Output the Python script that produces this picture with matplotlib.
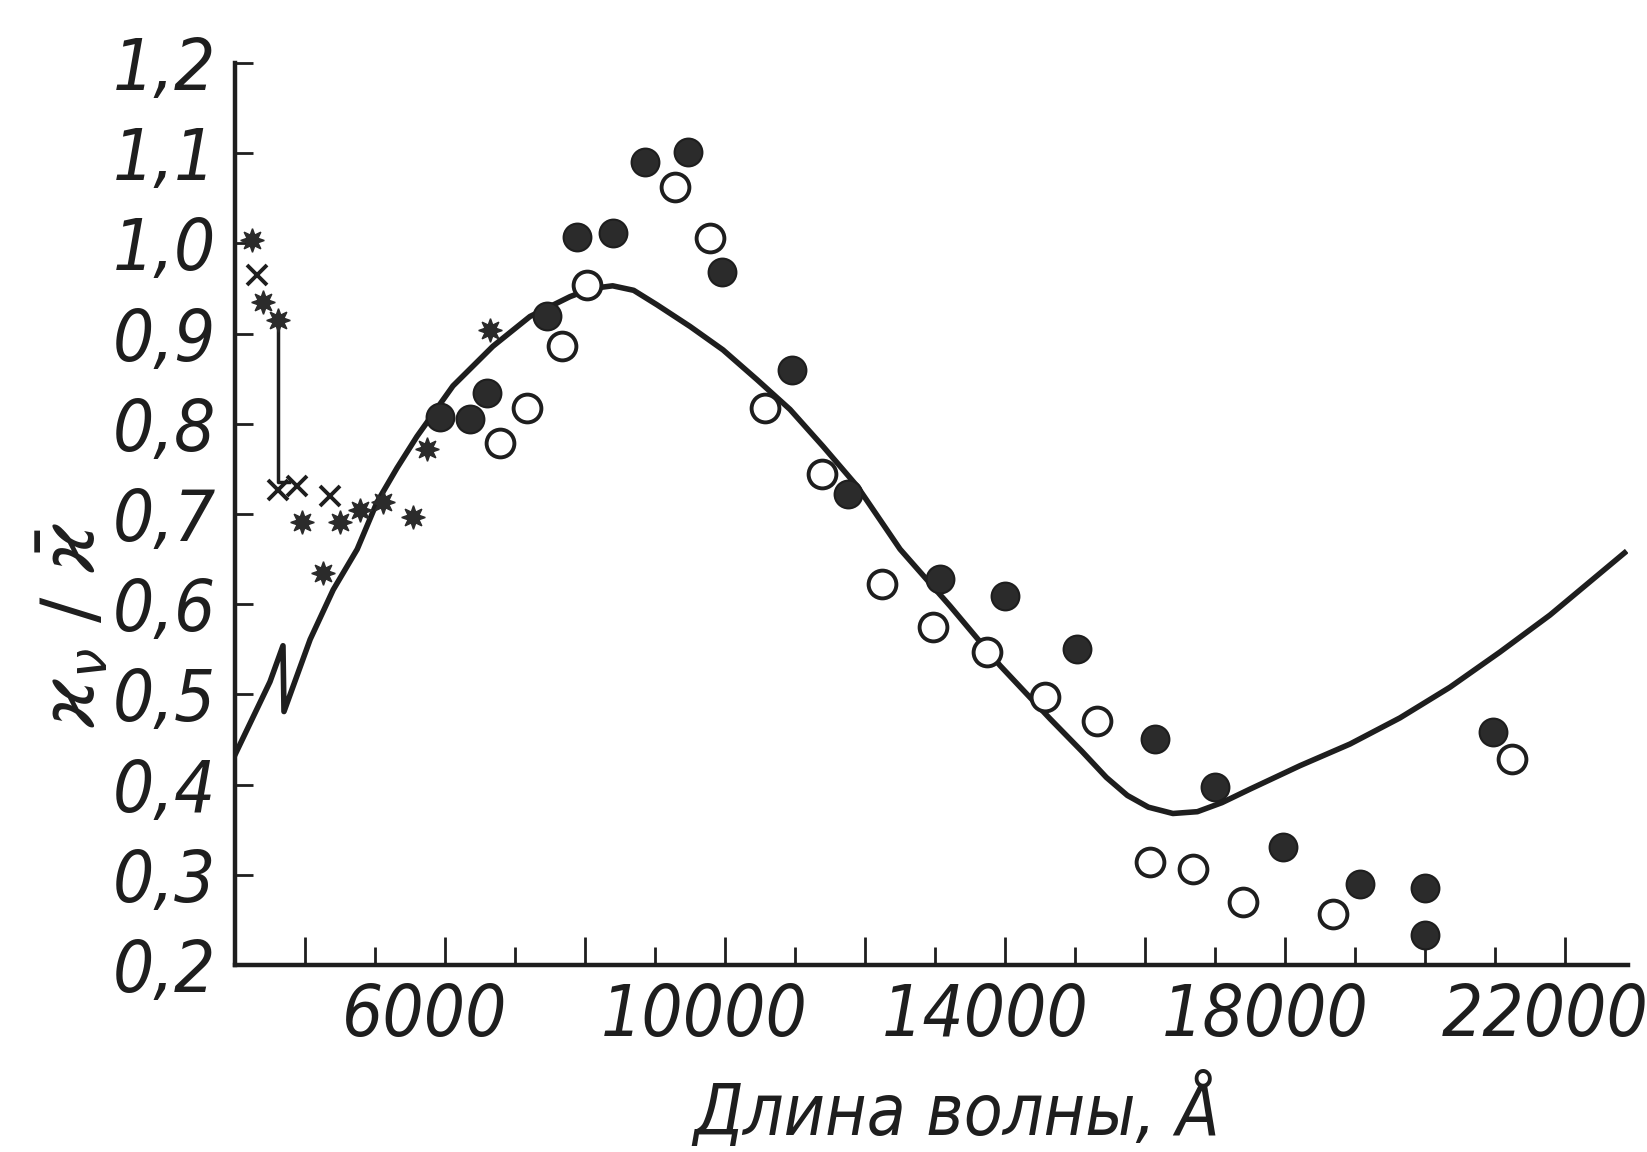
import matplotlib.pyplot as plt
from matplotlib import font_manager
from matplotlib.font_manager import FontProperties
from matplotlib.transforms import ScaledTranslation

# smooth curve (wavelength in A, ratio), incl. the little zigzag near the axis
curve_x = [3000, 3506, 3692, 3706, 4080, 4409, 4752, 5034, 5320, 5605, 6119, 6690, 7219, 7791,
           8100, 8400, 8700, 9032, 9504, 9975, 10461, 10932, 11404, 11890, 12504, 13218, 13932,
           14646, 15100, 15450, 15750, 16050, 16400, 16750, 17100, 17501, 18215, 18929, 19643,
           20357, 21071, 21785, 22742, 22850]
curve_y = [0.432, 0.514, 0.554, 0.481, 0.561, 0.616, 0.661, 0.713, 0.751, 0.786, 0.842, 0.886, 0.919, 0.941,
           0.950, 0.953, 0.948, 0.932, 0.908, 0.882, 0.849, 0.816, 0.775, 0.731, 0.661, 0.598, 0.532,
           0.473, 0.437, 0.408, 0.388, 0.375, 0.368, 0.370, 0.380, 0.395, 0.421, 0.445, 0.474,
           0.508, 0.547, 0.588, 0.650, 0.657]

open_x = [6790, 7176, 7675, 8033, 9289, 9789, 10574, 11388, 12246, 12974, 13744, 14572,
          15314, 16072, 16686, 17401, 18690, 21245]
open_y = [0.779, 0.818, 0.886, 0.954, 1.063, 1.006, 0.818, 0.744, 0.622, 0.575, 0.547, 0.497,
          0.471, 0.314, 0.307, 0.270, 0.257, 0.428]

filled_x = [5934, 6362, 6605, 7461, 7890, 8404, 8861, 9475, 9961, 10960, 11760, 13074, 14001,
            15029, 16143, 17000, 17972, 19072, 20000, 20000, 20974]
filled_y = [0.808, 0.805, 0.834, 0.919, 1.007, 1.012, 1.090, 1.101, 0.968, 0.860, 0.722, 0.628, 0.609,
            0.550, 0.451, 0.397, 0.331, 0.290, 0.285, 0.233, 0.458]

cross_x = [3320, 3620, 3891, 4366]
cross_y = [0.965, 0.727, 0.731, 0.720]

star_x = [3248, 3406, 3620, 3962, 4263, 4505, 4791, 5119, 5548, 5748, 6647]
star_y = [1.004, 0.935, 0.915, 0.691, 0.635, 0.691, 0.705, 0.713, 0.697, 0.772, 0.904]

bracket_x = [3620, 3620, 3780]
bracket_y = [0.915, 0.735, 0.735]

xtick_pos = [4000, 6000, 8000, 10000, 12000, 14000, 16000, 18000, 20000, 22000]
xtick_labels = ["", "6000", "", "10000", "", "14000", "", "18000", "", "22000"]
ytick_pos = [0.2, 0.3, 0.4, 0.5, 0.6, 0.7, 0.8, 0.9, 1.0, 1.1, 1.2]
ytick_labels = ["0,2", "0,3", "0,4", "0,5", "0,6", "0,7", "0,8", "0,9", "1,0", "1,1", "1,2"]

# look for a narrow italic face (the scan uses tall condensed digits)
narrow = None
for f in font_manager.fontManager.ttflist:
    n = f.fname.lower()
    if ("narrow" in n or "condensed" in n) and ("italic" in n or "oblique" in n) and "bold" not in n:
        narrow = f.fname
        break

if narrow:
    tick_fp = FontProperties(fname=narrow, size=52)
    lab_fp = FontProperties(fname=narrow, size=51)
else:
    tick_fp = FontProperties(family="DejaVu Sans", style="italic", size=40)
    lab_fp = FontProperties(family="DejaVu Sans", style="italic", size=44)
ytick_fp = tick_fp.copy()
if not narrow:
    ytick_fp.set_size(46)

plt.rcParams["mathtext.fontset"] = "dejavusans"

ink = "#1e1e1e"
fig = plt.figure(figsize=(16.47, 11.52), dpi=100)
ax = fig.add_axes([0.1424, 0.1623, 0.8461, 0.7830])

ax.plot(curve_x, curve_y, color=ink, lw=4, solid_joinstyle="round", zorder=2)
ax.plot(bracket_x, bracket_y, color=ink, lw=2.5, zorder=2)
ax.plot(filled_x, filled_y, "o", ms=20, color="#2b2b2b", mec=ink, mew=1.5, zorder=3)
ax.plot(open_x, open_y, "o", ms=20, mfc="white", mec=ink, mew=2.8, zorder=4)
ax.plot(star_x, star_y, marker=(8, 1, 0), ls="none", ms=17, color="#2b2b2b", zorder=4)
ax.plot(cross_x, cross_y, "x", ms=14, mew=2.8, color=ink, zorder=4)

ax.set_xlim(3000, 22900)
ax.set_ylim(0.2, 1.2)
for s in ["top", "right"]:
    ax.spines[s].set_visible(False)
for s in ["left", "bottom"]:
    ax.spines[s].set_linewidth(3.2)
    ax.spines[s].set_color(ink)

ax.set_xticks(xtick_pos)
ax.set_xticklabels(xtick_labels)
ax.set_xticks(range(5000, 22000, 2000), minor=True)
ax.set_yticks(ytick_pos)
ax.set_yticklabels(ytick_labels)
ax.tick_params(axis="x", which="major", direction="in", length=20, width=2, color=ink, pad=12)
ax.tick_params(axis="x", which="minor", direction="in", length=13, width=2, color=ink)
ax.tick_params(axis="y", direction="in", length=13, width=2, color=ink, pad=13)
shift = ScaledTranslation(-0.2, 0, fig.dpi_scale_trans)
for lab in ax.get_xticklabels():
    lab.set_fontproperties(tick_fp)
    lab.set_color(ink)
    lab.set_transform(lab.get_transform() + shift)
for lab in ax.get_yticklabels():
    lab.set_fontproperties(ytick_fp)
    lab.set_color(ink)

fig.text(0.581, 0.035, "Длина волны, Å", ha="center", va="center",
         fontproperties=lab_fp, color=ink)
fig.text(0.045, 0.458, r"$\varkappa_\nu\ /\ \bar{\varkappa}$", ha="center", va="center",
         rotation=90, fontsize=54, color=ink)

fig.savefig("out.png", dpi=100)
